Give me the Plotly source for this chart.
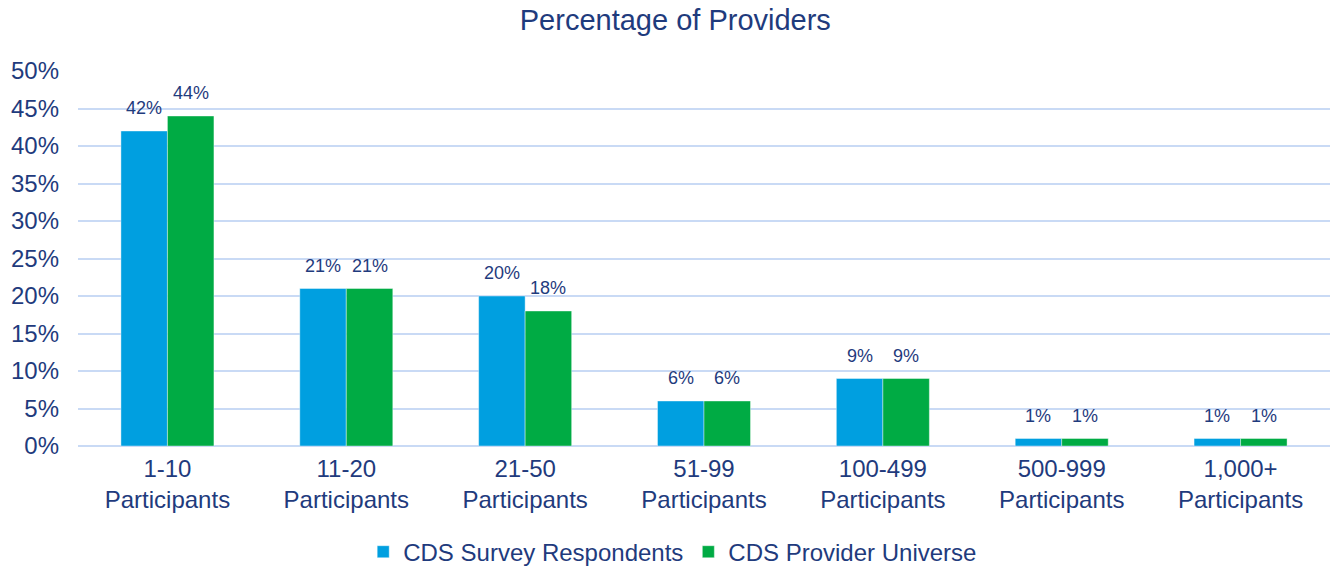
import plotly.graph_objects as go

categories = ["1-10<br>Participants", "11-20<br>Participants", "21-50<br>Participants",
              "51-99<br>Participants", "100-499<br>Participants", "500-999<br>Participants",
              "1,000+<br>Participants"]
respondents = [42, 21, 20, 6, 9, 1, 1]
universe = [44, 21, 18, 6, 9, 1, 1]
tick_vals = [0, 5, 10, 15, 20, 25, 30, 35, 40, 45, 50]
tick_text = [f"{v}%" for v in tick_vals]

navy = "#1F3B7D"
font_family = "Liberation Sans, Arial, sans-serif"

W, H = 1332, 567
ML, MR, MT, MB = 78, 2, 71, 121
plot_w = W - ML - MR
bargap = 0.48
bar_px = plot_w / len(categories) * (1 - bargap) / 2

fig = go.Figure()
fig.add_trace(go.Bar(
    x=categories, y=respondents, name="CDS Survey Respondents",
    marker=dict(color="#009FE0", line=dict(color="rgba(255,255,255,0.5)", width=0.8)),
))
fig.add_trace(go.Bar(
    x=categories, y=universe, name="CDS Provider Universe",
    marker=dict(color="#00AB44", line=dict(color="rgba(255,255,255,0.5)", width=0.8)),
))

annotations = []
for series, shift in ((respondents, -bar_px / 2), (universe, bar_px / 2)):
    for cat, v in zip(categories, series):
        annotations.append(dict(
            x=cat, y=v, xref="x", yref="y", text=f"{v}%", showarrow=False,
            xanchor="center", yanchor="bottom", xshift=shift, yshift=11,
            font=dict(size=18, color=navy, family=font_family),
        ))

fig.update_layout(
    template="none",
    width=W, height=H,
    margin=dict(l=ML, r=MR, t=MT, b=MB, autoexpand=False),
    paper_bgcolor="white", plot_bgcolor="white",
    barmode="group", bargap=bargap, bargroupgap=0,
    font=dict(family=font_family, color=navy, size=24),
    title=dict(text="Percentage of Providers", x=0.507, xanchor="center",
               y=1 - 20 / H, yanchor="middle",
               font=dict(size=29, color=navy, family=font_family)),
    legend=dict(orientation="h", x=0.475, xanchor="center", y=-0.283, yanchor="middle",
                font=dict(size=24, color=navy, family=font_family),
                traceorder="normal", itemwidth=30),
    annotations=annotations,
)
fig.update_xaxes(automargin=False, showgrid=False, showline=False, ticks="",
                 tickfont=dict(size=24, color=navy), ticklabelstandoff=6)
fig.update_yaxes(automargin=False, range=[0, 50], tickvals=tick_vals, ticktext=tick_text,
                 showgrid=True, gridcolor="#C9DAF5", gridwidth=1.5,
                 zeroline=True, zerolinecolor="#C9DAF5", zerolinewidth=1.5,
                 showline=False, ticks="", tickfont=dict(size=24, color=navy),
                 ticklabelstandoff=18)

fig.write_html("out.html", config={"displayModeBar": False},
               post_script="document.body.style.margin='0px';document.body.style.overflow='hidden';")
